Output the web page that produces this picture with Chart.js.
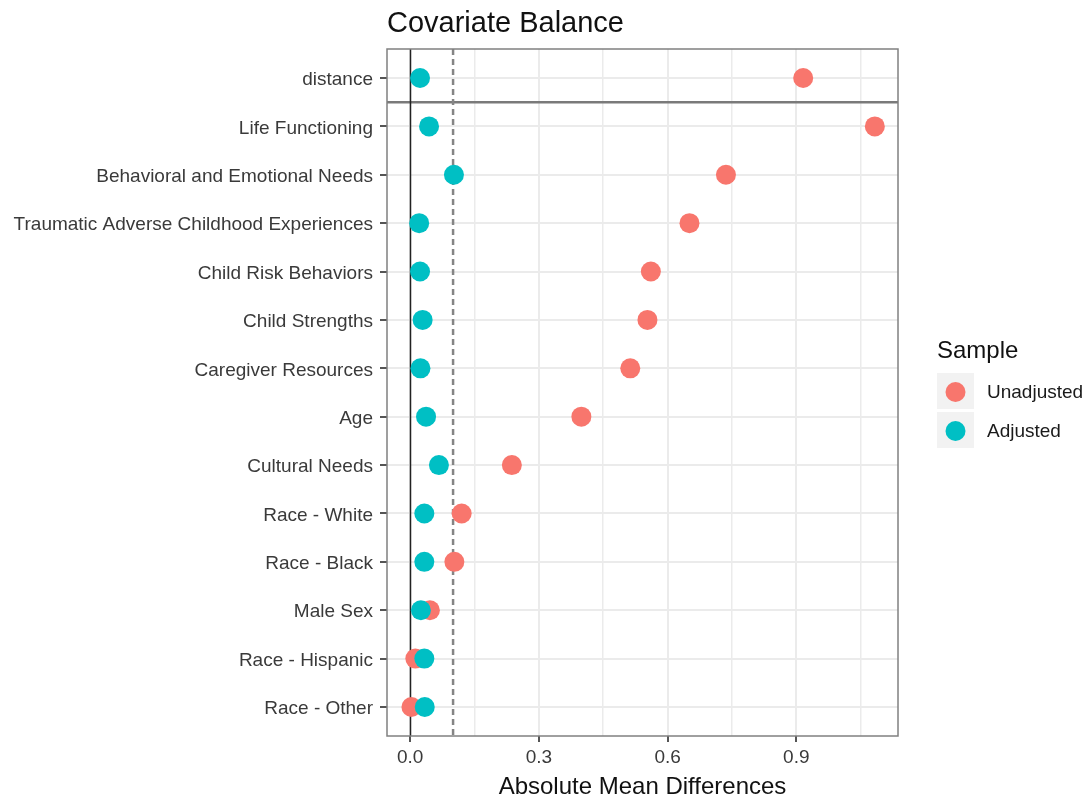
<!DOCTYPE html>
<html lang="en">
<head>
<meta charset="UTF-8" />
<title>Covariate Balance</title>
<script src="https://cdn.jsdelivr.net/npm/chart.js"></script>
<style>
  body { margin: 0; background: #fff; }
  #wrap { width: 1089px; height: 802px; }
</style>
</head>
<body>
<div id="wrap"><canvas id="balanceChart" width="1089" height="802"></canvas></div>

<script>
  // Covariates from top to bottom
  const covariates = [
    'distance',
    'Life Functioning',
    'Behavioral and Emotional Needs',
    'Traumatic Adverse Childhood Experiences',
    'Child Risk Behaviors',
    'Child Strengths',
    'Caregiver Resources',
    'Age',
    'Cultural Needs',
    'Race - White',
    'Race - Black',
    'Male Sex',
    'Race - Hispanic',
    'Race - Other'
  ];
  const unadjusted = [0.916, 1.083, 0.736, 0.651, 0.561, 0.553, 0.513, 0.399, 0.237, 0.120, 0.103, 0.046, 0.012, 0.003];
  const adjusted   = [0.023, 0.044, 0.102, 0.021, 0.023, 0.029, 0.024, 0.037, 0.067, 0.033, 0.033, 0.025, 0.033, 0.034];

  const xTickValues = [0, 0.3, 0.6, 0.9];
  const xTickLabels = ['0.0', '0.3', '0.6', '0.9'];
  const xMinorValues = [0.15, 0.45, 0.75, 1.05];
  const threshold = 0.1;

  const seriesNames = ['Unadjusted', 'Adjusted'];
  const seriesColors = ['#F8766D', '#00BFC4'];

  const FONT = "'Liberation Sans', Arial, sans-serif";

  const isMajor = v => xTickValues.some(t => Math.abs(t - v) < 1e-9);

  // reference lines, panel border, title and legend
  const decorations = {
    id: 'decorations',
    beforeDatasetsDraw(chart) {
      const { ctx, chartArea: a, scales: { x, y } } = chart;
      ctx.save();
      ctx.beginPath();
      ctx.rect(a.left, a.top, a.right - a.left, a.bottom - a.top);
      ctx.clip();

      // separator under "distance"
      const ySep = y.getPixelForValue(0.5);
      ctx.strokeStyle = '#7a7a7a';
      ctx.lineWidth = 2.5;
      ctx.beginPath();
      ctx.moveTo(a.left, ySep);
      ctx.lineTo(a.right, ySep);
      ctx.stroke();

      // zero line
      const x0 = Math.round(x.getPixelForValue(0)) + 0.5;
      ctx.strokeStyle = '#222';
      ctx.lineWidth = 1.5;
      ctx.beginPath();
      ctx.moveTo(x0, a.top);
      ctx.lineTo(x0, a.bottom);
      ctx.stroke();

      // threshold
      const xt = x.getPixelForValue(threshold);
      ctx.strokeStyle = '#858585';
      ctx.lineWidth = 2.5;
      ctx.setLineDash([6, 4]);
      ctx.beginPath();
      ctx.moveTo(xt, a.top);
      ctx.lineTo(xt, a.bottom);
      ctx.stroke();
      ctx.restore();
    },
    afterDraw(chart) {
      const { ctx, chartArea: a } = chart;
      ctx.save();

      // panel border
      ctx.strokeStyle = '#808080';
      ctx.lineWidth = 1.5;
      ctx.strokeRect(a.left, a.top, a.right - a.left, a.bottom - a.top);

      // title
      ctx.fillStyle = '#111';
      ctx.font = `29px ${FONT}`;
      ctx.textBaseline = 'alphabetic';
      ctx.textAlign = 'left';
      ctx.fillText('Covariate Balance', a.left, 32);

      // legend
      const lx = 937;
      ctx.font = `24px ${FONT}`;
      ctx.fillText('Sample', lx, 358);
      const boxTop = [373, 412];
      ctx.font = `19px ${FONT}`;
      seriesNames.forEach((name, i) => {
        ctx.fillStyle = '#f2f2f2';
        ctx.fillRect(lx, boxTop[i], 37, 36);
        ctx.fillStyle = seriesColors[i];
        ctx.beginPath();
        ctx.arc(lx + 18.5, boxTop[i] + 19, 10, 0, Math.PI * 2);
        ctx.fill();
        ctx.fillStyle = '#1a1a1a';
        ctx.textBaseline = 'middle';
        ctx.fillText(name, 987, boxTop[i] + 20);
      });
      ctx.restore();
    }
  };

  const ctx = document.getElementById('balanceChart').getContext('2d');
  new Chart(ctx, {
    type: 'scatter',
    data: {
      datasets: [
        {
          label: seriesNames[0],
          data: unadjusted.map((v, i) => ({ x: v, y: i })),
          backgroundColor: seriesColors[0],
          borderWidth: 0,
          pointRadius: 10,
          order: 1
        },
        {
          label: seriesNames[1],
          data: adjusted.map((v, i) => ({ x: v, y: i })),
          backgroundColor: seriesColors[1],
          borderWidth: 0,
          pointRadius: 10,
          order: 0
        }
      ]
    },
    options: {
      responsive: false,
      animation: false,
      layout: { padding: { top: 49, right: 191, bottom: 0, left: 0 } },
      plugins: {
        legend: { display: false },
        tooltip: { enabled: false }
      },
      scales: {
        x: {
          type: 'linear',
          min: -0.054,
          max: 1.137,
          afterFit: s => { s.height = 66; },
          afterBuildTicks: s => {
            s.ticks = xTickValues.concat(xMinorValues).sort((p, q) => p - q).map(v => ({ value: v }));
          },
          border: { display: false },
          grid: {
            color: '#ebebeb',
            lineWidth: c => (c.tick && isMajor(c.tick.value)) ? 2 : 1.5,
            tickColor: c => (c.tick && isMajor(c.tick.value)) ? '#555' : 'rgba(0,0,0,0)',
            tickLength: 6
          },
          ticks: {
            autoSkip: false,
            maxRotation: 0,
            padding: 4,
            color: '#3a3a3a',
            font: { family: FONT, size: 19 },
            callback: v => {
              const i = xTickValues.findIndex(t => Math.abs(t - v) < 1e-9);
              return i >= 0 ? xTickLabels[i] : '';
            }
          },
          title: {
            display: true,
            text: 'Absolute Mean Differences',
            color: '#111',
            font: { family: FONT, size: 24 },
            padding: { top: 0.5, bottom: 0.5 }
          }
        },
        y: {
          type: 'linear',
          reverse: true,
          min: -0.6,
          max: covariates.length - 1 + 0.6,
          afterFit: s => { s.width = 387; },
          afterBuildTicks: s => {
            s.ticks = covariates.map((c, i) => ({ value: i }));
          },
          border: { display: false },
          grid: {
            color: '#ebebeb',
            lineWidth: 2,
            tickColor: '#555',
            tickLength: 7
          },
          ticks: {
            autoSkip: false,
            padding: 7,
            labelOffset: 2,
            color: '#3a3a3a',
            font: { family: FONT, size: 19 },
            callback: v => covariates[v]
          }
        }
      }
    },
    plugins: [decorations]
  });
</script>
</body>
</html>
